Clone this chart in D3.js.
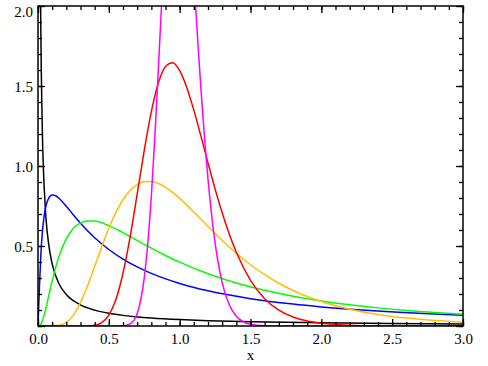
<!DOCTYPE html>
<html>
<head>
<meta charset="utf-8">
<script src="https://cdn.jsdelivr.net/npm/d3@7/dist/d3.min.js"></script>
<style>
  html, body { margin: 0; padding: 0; background: #fff; }
  svg { display: block; }
  svg text { font-family: 'Liberation Serif', 'Times New Roman', 'DejaVu Serif', Times, serif !important; }
</style>
</head>
<body>
<svg id="chart" width="488" height="366"></svg>
<script>
// ---- Data ----
const blackX = [0.01, 0.015, 0.02, 0.03, 0.05, 0.075, 0.1, 0.15, 0.2, 0.3, 0.4, 0.5, 0.6, 0.7, 0.8, 1.0, 1.2, 1.5, 2.0, 2.5, 3.0];
const blackY = [3.588, 2.435, 1.848, 1.2505, 0.7629, 0.5144, 0.3885, 0.2612, 0.1969, 0.1320, 0.0993, 0.0796, 0.0664, 0.0570, 0.0499, 0.0399, 0.0332, 0.0266, 0.0199, 0.0159, 0.0132];

const blueX = [0, 0.01, 0.02, 0.03, 0.04, 0.05, 0.075, 0.1, 0.125, 0.15, 0.2, 0.25, 0.3, 0.4, 0.5, 0.6, 0.7, 0.8, 1.0, 1.2, 1.5, 1.8, 2.0, 2.4, 2.8, 3.0];
const blueY = [0, 0.2388, 0.4434, 0.5768, 0.6649, 0.7240, 0.7982, 0.8187, 0.8139, 0.7969, 0.7479, 0.6940, 0.6424, 0.5517, 0.4781, 0.4183, 0.3694, 0.3288, 0.2660, 0.2200, 0.1709, 0.1368, 0.1195, 0.0935, 0.0751, 0.0678];

const greenX = [0, 0.01, 0.02, 0.05, 0.075, 0.1, 0.15, 0.2, 0.25, 0.3, 0.35, 0.4, 0.5, 0.6, 0.7, 0.8, 0.9, 1.0, 1.2, 1.4, 1.6, 1.8, 2.0, 2.2, 2.4, 2.6, 2.8, 3.0];
const greenY = [0, 0.0010, 0.0095, 0.0899, 0.1857, 0.2816, 0.4398, 0.5464, 0.6104, 0.6442, 0.6569, 0.6555, 0.6275, 0.5836, 0.5348, 0.4864, 0.4408, 0.3989, 0.3270, 0.2693, 0.2233, 0.1865, 0.1569, 0.1329, 0.1133, 0.0972, 0.0839, 0.0727];

const orangeX = [0, 0.1, 0.15, 0.2, 0.25, 0.3, 0.35, 0.4, 0.45, 0.5, 0.55, 0.6, 0.65, 0.7, 0.75, 0.8, 0.85, 0.9, 0.95, 1.0, 1.1, 1.2, 1.3, 1.4, 1.5, 1.6, 1.7, 1.8, 1.9, 2.0, 2.2, 2.4, 2.6, 2.8, 3.0];
const orangeY = [0, 0.0002, 0.0040, 0.0225, 0.0683, 0.1465, 0.2516, 0.3721, 0.4953, 0.6104, 0.7098, 0.7892, 0.8469, 0.8838, 0.9016, 0.9028, 0.8904, 0.8670, 0.8355, 0.7979, 0.7123, 0.6221, 0.5348, 0.4544, 0.3829, 0.3206, 0.2673, 0.2221, 0.1842, 0.1526, 0.1046, 0.0718, 0.0494, 0.0342, 0.0238];

const redX = [0, 0.3, 0.35, 0.4, 0.45, 0.5, 0.55, 0.6, 0.65, 0.7, 0.75, 0.8, 0.85, 0.9, 0.95, 1.0, 1.05, 1.1, 1.15, 1.2, 1.25, 1.3, 1.35, 1.4, 1.5, 1.6, 1.7, 1.8, 1.9, 2.0, 2.2, 2.4, 2.6, 3.0];
const redY = [0, 0, 0.0007, 0.0048, 0.0216, 0.0683, 0.1663, 0.3299, 0.5561, 0.8240, 1.0973, 1.3393, 1.5198, 1.6223, 1.6448, 1.5958, 1.4911, 1.3491, 1.1868, 1.0192, 0.8572, 0.7076, 0.5751, 0.4607, 0.2855, 0.1704, 0.0987, 0.0559, 0.0311, 0.0171, 0.0050, 0.0014, 0.0004, 0];

const magentaX = [0, 0.5, 0.55, 0.6, 0.65, 0.7, 0.725, 0.75, 0.775, 0.8, 0.825, 0.85, 0.875, 0.9, 0.95, 1.0, 1.05, 1.1, 1.125, 1.15, 1.175, 1.2, 1.25, 1.3, 1.35, 1.4, 1.45, 1.5, 1.6, 1.7, 2.0, 3.0];
const magentaY = [0, 0, 0.0001, 0.0013, 0.0129, 0.0778, 0.1609, 0.3012, 0.5150, 0.8108, 1.1836, 1.6127, 2.0617, 2.4852, 3.0884, 3.1915, 2.8167, 2.1697, 1.8199, 1.4851, 1.1817, 0.9180, 0.5189, 0.2712, 0.1325, 0.0609, 0.0265, 0.0110, 0.0017, 0.0002, 0, 0];

const seriesNames = ["black", "blue", "green", "orange", "red", "magenta"];
const seriesColors = ["#000000", "#0000ff", "#00ff00", "#ffbf00", "#ff0000", "#ff00ff"];

const xMajorTicks = [0, 0.5, 1.0, 1.5, 2.0, 2.5, 3.0];
const xTickLabels = ["0.0", "0.5", "1.0", "1.5", "2.0", "2.5", "3.0"];
const yMajorTicks = [0, 0.5, 1.0, 1.5, 2.0];
const yTickLabels = ["", "0.5", "1.0", "1.5", "2.0"];
const xTitle = "x";

// ---- Layout ----
const W = 488, H = 366;
const pL = 38, pR = 463, pT = 6, pB = 326;
const FONT = "'Liberation Serif', 'Times New Roman', 'DejaVu Serif', Times, serif";

const x = d3.scaleLinear().domain([0, 3]).range([pL, pR]);
const y = d3.scaleLinear().domain([0, 2]).range([pB, pT]);

const svg = d3.select("#chart");

svg.append("defs").append("clipPath").attr("id", "plotclip")
  .append("rect").attr("x", pL).attr("y", pT).attr("width", pR - pL).attr("height", pB - pT);

const series = [
  [blackX, blackY], [blueX, blueY], [greenX, greenY],
  [orangeX, orangeY], [redX, redY], [magentaX, magentaY]
];

const line = d3.line()
  .x(d => x(d[0]))
  .y(d => y(d[1]))
  .curve(d3.curveMonotoneX);

const g = svg.append("g").attr("clip-path", "url(#plotclip)");
series.forEach((s, i) => {
  const pts = s[0].map((xv, j) => [xv, s[1][j]]);
  g.append("path")
    .datum(pts)
    .attr("class", "series-" + seriesNames[i])
    .attr("fill", "none")
    .attr("stroke", seriesColors[i])
    .attr("stroke-width", 1.5)
    .attr("stroke-linejoin", "round")
    .attr("d", line);
});

// ---- Axes (ticks inward, IDL style) ----
const xMinor = d3.range(0, 3.0001, 0.1).map(v => +v.toFixed(2));
const yMinor = d3.range(0, 2.0001, 0.1).map(v => +v.toFixed(2));
const MAJ = 7, MIN = 4;

function axisG(axisFn, tr) {
  const a = svg.append("g").attr("transform", tr).call(axisFn);
  a.attr("font-family", null).style("font-family", FONT);
  a.select(".domain").remove();
  a.selectAll("line").attr("stroke", "#000").attr("stroke-width", 1.3);
  return a;
}

// bottom
axisG(d3.axisBottom(x).tickValues(xMinor).tickSize(-MIN).tickFormat(""), `translate(0,${pB})`);
const bx = axisG(d3.axisBottom(x).tickValues(xMajorTicks).tickSize(-MAJ).tickPadding(7)
  .tickFormat((d, i) => xTickLabels[i]), `translate(0,${pB})`);
bx.selectAll("text").attr("font-size", 15).attr("fill", "#000").style("font-family", FONT);
// top
axisG(d3.axisTop(x).tickValues(xMinor).tickSize(-MIN).tickFormat(""), `translate(0,${pT})`);
axisG(d3.axisTop(x).tickValues(xMajorTicks).tickSize(-MAJ).tickFormat(""), `translate(0,${pT})`);
// left
axisG(d3.axisLeft(y).tickValues(yMinor).tickSize(-MIN).tickFormat(""), `translate(${pL},0)`);
const ly = axisG(d3.axisLeft(y).tickValues(yMajorTicks).tickSize(-MAJ).tickPadding(5)
  .tickFormat((d, i) => yTickLabels[i]), `translate(${pL},0)`);
ly.selectAll("text").attr("font-size", 15).attr("fill", "#000").style("font-family", FONT)
  .attr("dy", d => d === 2 ? "0.68em" : "0.35em");
// right
axisG(d3.axisRight(y).tickValues(yMinor).tickSize(-MIN).tickFormat(""), `translate(${pR},0)`);
axisG(d3.axisRight(y).tickValues(yMajorTicks).tickSize(-MAJ).tickFormat(""), `translate(${pR},0)`);

// frame
svg.append("rect")
  .attr("x", pL).attr("y", pT).attr("width", pR - pL).attr("height", pB - pT)
  .attr("fill", "none").attr("stroke", "#000").attr("stroke-width", 1.5);

// x title
svg.append("text")
  .attr("x", (pL + pR) / 2).attr("y", 360)
  .attr("text-anchor", "middle").attr("font-size", 15).attr("fill", "#000")
  .style("font-family", FONT)
  .text(xTitle);
</script>
</body>
</html>
